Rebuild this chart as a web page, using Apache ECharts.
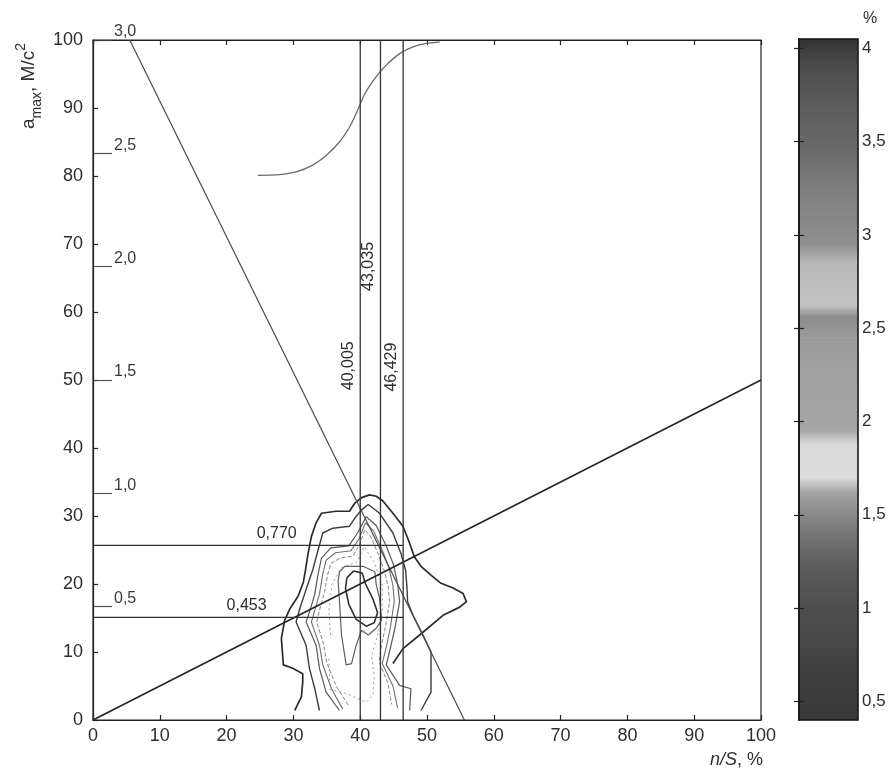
<!DOCTYPE html>
<html><head><meta charset="utf-8">
<script src="https://cdn.jsdelivr.net/npm/echarts@6/dist/echarts.min.js"></script>
<style>html,body{margin:0;padding:0;background:#fff}#c{width:890px;height:772px}</style>
</head><body><div id="c"></div>
<script>
// ---------- data ----------
const secondaryTicks = [0.5, 1.0, 1.5, 2.0, 2.5, 3.0];
const colorbarTicks = [0.5, 1, 1.5, 2, 2.5, 3, 3.5, 4];
const verticalLines = [40.005, 43.035, 46.429];
const verticalLabelY = [52.1, 66.7, 51.9];
const horizontalLines = [0.770, 0.453];
const horizontalLabelX = [27.5, 23.0];
const horizontalLineEnd = 46.429;
const diagonalDown = [[5.5, 100], [55.6, 0]];
const diagonalUp = [[0, 0], [100, 50]];
const topCurve = [[24.7,80.1],[27.9,80.2],[30.4,80.6],[32.9,81.6],[34.9,83.0],[36.9,85.0],[38.4,87.2],[39.4,89.2],[40.7,92.1],[42.4,94.6],[43.9,96.3],[45.9,98.0],[47.9,99.0],[49.9,99.5],[51.9,99.7]];

const contour1 = [[30.2,1.4],[31.2,3.4],[31.4,5.6],[31.4,6.8],[29.9,7.6],[28.5,8.1],[28.2,12.0],[28.7,14.7],[29.5,16.4],[30.7,18.2],[31.5,20.3],[31.8,22.0],[32.2,24.5],[32.7,27.0],[33.4,29.0],[34.2,30.4],[36.4,30.7],[38.4,30.7],[39.2,31.9],[40.2,32.7],[41.4,33.1],[42.4,32.9],[43.4,32.2],[44.9,30.4],[46.4,28.5],[47.4,26.0],[48.1,24.0],[49.1,22.6],[50.6,21.3],[52.1,20.1],[53.9,19.4],[55.4,18.6],[55.9,17.4],[54.9,16.6],[52.4,15.4],[48.9,12.5],[46.4,10.5],[44.9,8.3]];
const contour2 = [[33.9,1.4],[33.2,4.6],[32.4,7.6],[31.9,11.0],[30.4,14.4],[31.0,16.5],[32.0,19.5],[32.9,22.1],[33.7,25.0],[34.4,27.5],[35.9,28.2],[38.4,28.5],[39.2,29.7],[40.2,30.9],[41.2,31.7],[42.9,30.4],[44.9,27.5],[46.1,24.5],[46.8,22.0],[47.0,19.5],[47.1,17.4],[47.9,15.4],[49.4,12.5],[50.6,10.0],[50.6,4.1],[49.1,1.4]];
const contour3 = [[36.9,1.4],[34.9,4.1],[33.9,7.6],[33.4,11.0],[31.9,14.4],[32.6,16.5],[33.2,18.5],[33.7,21.5],[34.2,23.8],[35.6,25.3],[38.3,25.6],[39.6,27.5],[40.9,29.9],[42.4,28.6],[43.9,25.6],[45.0,22.8],[45.6,20.0],[45.9,17.4],[45.2,13.5],[44.5,10.5],[43.9,8.1],[45.9,5.1],[47.6,4.6],[47.4,1.4]];
const contour4 = [[37.4,1.6],[35.7,4.6],[34.4,8.1],[33.9,11.0],[32.7,14.4],[33.3,16.5],[33.9,18.5],[34.4,21.5],[34.9,23.5],[36.3,24.6],[38.6,24.9],[39.8,26.6],[40.8,29.0],[42.0,27.8],[43.3,25.0],[44.3,22.4],[44.9,19.8],[45.1,17.4],[44.5,13.5],[43.9,10.7],[43.3,8.3],[44.9,5.0],[45.6,1.8]];
const contour5 = [[38.2,2.2],[36.4,5.0],[35.0,8.4],[34.5,11.2],[33.5,14.4],[34.0,16.5],[34.6,18.5],[35.1,21.3],[35.6,23.0],[37.0,23.8],[38.9,24.1],[39.9,25.8],[40.7,28.0],[41.6,26.9],[42.7,24.4],[43.6,22.0],[44.2,19.6],[44.4,17.4],[43.8,13.8],[43.2,11.0],[42.8,8.6],[44.2,5.3],[44.7,2.3]];
const contour6 = [[35.3,9.0],[35.5,4.5],[37.9,3.9],[40.9,2.6],[41.9,3.6],[42.1,6.5],[41.7,9.5],[42.6,12.5],[43.3,16.0],[43.3,19.8],[42.1,23.2],[40.6,25.5],[39.5,23.2],[37.2,22.4],[35.8,20.0],[35.3,16.0],[35.6,12.0]];
const contour7 = [[36.9,21.8],[37.7,22.6],[40.4,22.6],[42.2,21.8],[42.4,19.9],[42.9,17.9],[43.2,14.7],[42.4,13.5],[41.2,12.5],[40.2,13.2],[39.4,11.0],[38.7,8.3],[37.9,8.1],[37.2,12.5],[36.9,17.4],[36.7,20.4],[36.9,21.8]];
const contour8 = [[38.0,20.9],[39.0,21.9],[40.3,21.6],[40.8,20.0],[41.9,17.8],[42.6,15.8],[42.1,14.3],[40.9,13.8],[39.4,14.8],[38.3,17.0],[37.8,19.3],[38.0,20.9]];

const colorbarValues = [0.40,0.60,0.80,1.00,1.20,1.32,1.42,1.52,1.62,1.70,1.88,1.95,2.20,2.45,2.56,2.62,2.85,2.95,3.25,3.45,3.70,3.90,4.05];
// ---------- styles ----------
const colorbarColors = ['#383838','#3e3e3e','#474747','#4e4e4e','#5a5a5a','#6a6a6a','#7a7a7a','#8e8e8e','#a4a4a4','#dcdcdc','#dadada','#a6a6a6','#a3a3a3','#9a9a9a','#8c8c8c','#c2c2c2','#b8b8b8','#8f8f8f','#7e7e7e','#6a6a6a','#5c5c5c','#4c4c4c','#333333'];
const contours = [contour1, contour2, contour3, contour4, contour5, contour6, contour7, contour8];
const contourStyles = [
  {color:'#2b2b2b', width:1.7, type:'solid'},
  {color:'#3c3c3c', width:1.4, type:'solid'},
  {color:'#585858', width:1.2, type:'solid'},
  {color:'#707070', width:1.1, type:'solid'},
  {color:'#858585', width:1.0, type:[4,2]},
  {color:'#9a9a9a', width:1.0, type:[2,3]},
  {color:'#5e5e5e', width:1.2, type:'solid'},
  {color:'#303030', width:1.6, type:'solid'}
];
const FONT = "'Liberation Sans', Arial, sans-serif";
const TXT = '#2e2e2e';
const comma = (v, d) => (d == null ? String(v) : v.toFixed(d)).replace('.', ',');

const chart = echarts.init(document.getElementById('c'), null, {renderer:'canvas'});

const series = [];
contours.forEach((c, i) => {
  series.push({type:'line', xAxisIndex:0, yAxisIndex:0, data:c, symbol:'none', silent:true, smooth:false,
    lineStyle:contourStyles[i], z:2});
});
series.push({type:'line', xAxisIndex:0, yAxisIndex:0, data:topCurve, symbol:'none', silent:true, smooth:0.3,
  lineStyle:{color:'#6a6a6a', width:1.3}, z:3});
series.push({type:'line', xAxisIndex:0, yAxisIndex:0, data:diagonalDown, symbol:'none', silent:true,
  lineStyle:{color:'#4a4a4a', width:1.2}, z:3});
series.push({type:'line', xAxisIndex:0, yAxisIndex:0, data:diagonalUp, symbol:'none', silent:true,
  lineStyle:{color:'#222', width:1.5}, z:3});
verticalLines.forEach(v => {
  series.push({type:'line', xAxisIndex:0, yAxisIndex:0, data:[[v,0],[v,100]], symbol:'none', silent:true,
    lineStyle:{color:'#333', width:1.3}, z:3});
});
horizontalLines.forEach(h => {
  series.push({type:'line', xAxisIndex:0, yAxisIndex:1, data:[[0,h],[horizontalLineEnd,h]], symbol:'none', silent:true,
    lineStyle:{color:'#333', width:1.3}, z:3});
});
// labels on vertical lines
series.push({type:'custom', xAxisIndex:0, yAxisIndex:0, clip:false, silent:true, z:6,
  data: verticalLines.map((v,i) => [v, verticalLabelY[i]]),
  renderItem(params, api){
    const p = api.coord([api.value(0), api.value(1)]);
    return {type:'text', x:p[0]-12, y:p[1], rotation:Math.PI/2,
      style:{text:comma(api.value(0),3), fontSize:16, fontFamily:FONT, fill:TXT, align:'center', verticalAlign:'middle'}};
  }});
// labels on horizontal lines
series.push({type:'custom', xAxisIndex:0, yAxisIndex:1, clip:false, silent:true, z:6,
  data: horizontalLines.map((h,i) => [horizontalLabelX[i], h]),
  renderItem(params, api){
    const p = api.coord([api.value(0), api.value(1)]);
    return {type:'text', x:p[0], y:p[1]-4,
      style:{text:comma(api.value(1),3), fontSize:16, fontFamily:FONT, fill:TXT, align:'center', verticalAlign:'bottom'}};
  }});
// colour bar
series.push({type:'custom', xAxisIndex:2, yAxisIndex:3, clip:false, silent:true, z:2,
  data: colorbarValues.slice(0,-1).map((v,i) => [0.5, v, colorbarValues[i+1]]),
  encode:{x:0, y:[1,2]},
  renderItem(params, api){
    const i = params.dataIndex;
    const pTop = api.coord([0, api.value(2)]);
    const pBot = api.coord([1, api.value(1)]);
    return {type:'rect', shape:{x:pTop[0], y:pTop[1]-0.3, width:pBot[0]-pTop[0], height:pBot[1]-pTop[1]+0.6},
      style:{fill:new echarts.graphic.LinearGradient(0,0,0,1,[{offset:0,color:colorbarColors[i+1]},{offset:1,color:colorbarColors[i]}])}};
  }});

const option = {
  backgroundColor:'#fff',
  animation:false,
  textStyle:{fontFamily:FONT},
  grid:[
    {left:93, top:40, width:668, height:680, show:true, borderColor:'#222', borderWidth:1.2, outerBoundsMode:'none', containLabel:false, z:4},
    {left:799, top:39, width:59, height:681, show:true, borderColor:'#1a1a1a', borderWidth:1.6, outerBoundsMode:'none', containLabel:false, z:5}
  ],
  xAxis:[
    {gridIndex:0, type:'value', min:0, max:100, interval:10, position:'bottom',
      axisLine:{show:true, onZero:false, lineStyle:{color:'#222', width:1.2}},
      axisTick:{show:true, inside:true, length:5, lineStyle:{color:'#222', width:1.2}},
      axisLabel:{fontSize:18, color:TXT, margin:7, fontFamily:FONT}, splitLine:{show:false}},
    {gridIndex:0, type:'value', min:0, max:100, interval:10, position:'top',
      axisLine:{show:true, onZero:false, lineStyle:{color:'#222', width:1.2}},
      axisTick:{show:true, inside:true, length:5, lineStyle:{color:'#222', width:1.2}},
      axisLabel:{show:false}, splitLine:{show:false}},
    {gridIndex:1, type:'value', min:0, max:1, show:false}
  ],
  yAxis:[
    {gridIndex:0, type:'value', min:0, max:100, interval:10, position:'left',
      axisLine:{show:true, onZero:false, lineStyle:{color:'#222', width:1.2}},
      axisTick:{show:true, inside:true, length:5, lineStyle:{color:'#222', width:1.2}},
      axisLabel:{fontSize:18, color:TXT, margin:10, fontFamily:FONT}, splitLine:{show:false}},
    {gridIndex:0, type:'value', min:0, max:3, interval:0.5, position:'left',
      axisLine:{show:false},
      axisTick:{show:true, inside:true, length:19, lineStyle:{color:'#555', width:1.2}},
      axisLabel:{show:true, inside:true, margin:21, fontSize:16, color:'#3a3a3a', verticalAlign:'bottom', align:'left',
        showMinLabel:false, fontFamily:FONT,
        formatter:(v) => secondaryTicks.some(t => Math.abs(t-v)<1e-6) ? comma(v,1) : ''},
      splitLine:{show:false}},
    {gridIndex:0, type:'value', min:0, max:100, position:'right', show:false},
    {gridIndex:1, type:'value', min:0.40, max:4.05, position:'right', z:6,
      axisLine:{show:true, lineStyle:{color:'#1a1a1a', width:1.6}},
      axisTick:{show:true, inside:true, length:5, customValues:colorbarTicks, lineStyle:{color:'#222', width:1.2}},
      axisLabel:{show:true, margin:4, fontSize:17, color:TXT, customValues:colorbarTicks, fontFamily:FONT,
        formatter:(v) => comma(v)},
      splitLine:{show:false}},
    {gridIndex:1, type:'value', min:0.40, max:4.05, position:'left', z:6,
      axisLine:{show:true, lineStyle:{color:'#1a1a1a', width:1.6}},
      axisTick:{show:true, inside:true, length:5, customValues:colorbarTicks, lineStyle:{color:'#222', width:1.2}},
      axisLabel:{show:false}, splitLine:{show:false}}
  ],
  graphic:[
    {type:'text', x:29, y:86, rotation:Math.PI/2, z:10,
      style:{text:'{a|a}{s|max}{a|, М/с}{p|2}', align:'center', verticalAlign:'middle', fill:TXT,
        rich:{a:{fontSize:19, fontFamily:FONT, fill:TXT, lineHeight:30},
              s:{fontSize:14, fontFamily:FONT, fill:TXT, lineHeight:15, verticalAlign:'bottom'},
              p:{fontSize:14, fontFamily:FONT, fill:TXT, lineHeight:15, verticalAlign:'top'}}}},
    {type:'text', x:763, y:760, z:10,
      style:{text:'{i|n/S}{n|, %}', align:'right', verticalAlign:'middle', fill:TXT,
        rich:{i:{fontSize:18, fontStyle:'italic', fontFamily:FONT, fill:TXT},
              n:{fontSize:18, fontFamily:FONT, fill:TXT}}}},
    {type:'text', x:870, y:19, z:10,
      style:{text:'%', fontSize:16, fontFamily:FONT, fill:TXT, align:'center', verticalAlign:'middle'}}
  ],
  series: series
};
chart.setOption(option);
</script>
</body></html>
